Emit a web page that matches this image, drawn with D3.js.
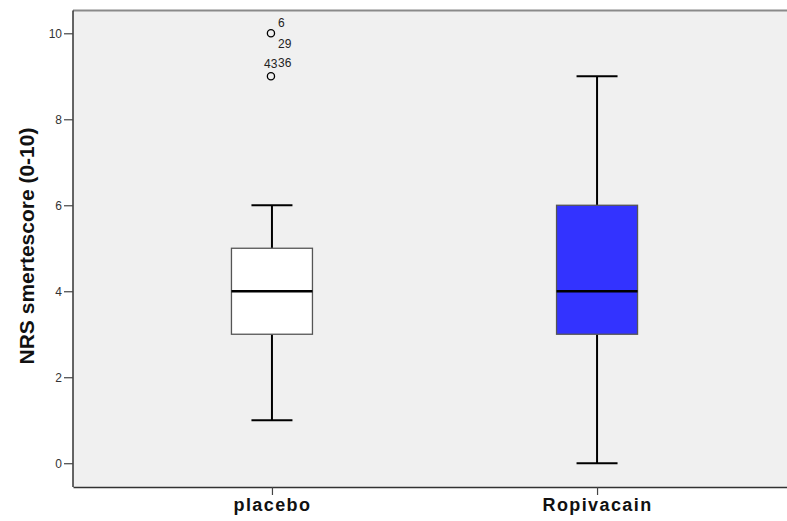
<!DOCTYPE html>
<html>
<head>
<meta charset="utf-8">
<script src="https://cdn.jsdelivr.net/npm/d3@7"></script>
<style>
  body { margin: 0; background: #fff; }
  text { font-family: Arial, "Liberation Sans", sans-serif; }
</style>
</head>
<body>
<div class="graph"></div>
<script>
const width = 787;
const height = 521;
const margin = {top: 10.5, right: -9, bottom: 34, left: 73};
const innerWidth = width - margin.left - margin.right;
const innerHeight = height - margin.top - margin.bottom;

// data
const groups = ['placebo', 'Ropivacain'];
const q1 = [3, 3];
const medians = [4, 4];
const q3 = [5, 6];
const whiskerLow = [1, 0];
const whiskerHigh = [6, 9];
const outlierGroup = ['placebo', 'placebo'];
const outlierValue = [10, 9];
const outlierCases = [['6', '29'], ['43', '36']];
const yTicks = [0, 2, 4, 6, 8, 10];

const boxFill = ['#ffffff', '#3333ff'];

const svg = d3.select('.graph').append('svg')
  .attr('width', width)
  .attr('height', height);

const chart = svg.append('g')
  .attr('transform', `translate(${margin.left}, ${margin.top})`);

const xScale = d3.scalePoint()
  .domain(groups)
  .range([0, innerWidth])
  .padding(0.612);

const yScale = d3.scaleLinear()
  .domain([-0.553, 10.53])
  .range([innerHeight, 0]);

const boxW = 81;
const capW = 41;

// plot background
chart.append('rect')
  .attr('width', innerWidth)
  .attr('height', innerHeight)
  .attr('fill', '#f0f0f0');

chart.append('line')
  .attr('x1', 0).attr('x2', innerWidth)
  .attr('y1', 0).attr('y2', 0)
  .attr('stroke', '#8a8a8a')
  .attr('stroke-width', 2);

// boxes
const box = chart.selectAll('.box')
  .data(groups)
  .join('g')
  .attr('class', 'box')
  .attr('transform', d => `translate(${xScale(d)}, 0)`);

// whiskers
box.append('line')
  .attr('y1', (d, i) => yScale(whiskerHigh[i]))
  .attr('y2', (d, i) => yScale(q3[i]))
  .attr('stroke', '#000').attr('stroke-width', 2);
box.append('line')
  .attr('y1', (d, i) => yScale(q1[i]))
  .attr('y2', (d, i) => yScale(whiskerLow[i]))
  .attr('stroke', '#000').attr('stroke-width', 2);
box.append('line')
  .attr('x1', -capW / 2).attr('x2', capW / 2)
  .attr('y1', (d, i) => yScale(whiskerHigh[i]))
  .attr('y2', (d, i) => yScale(whiskerHigh[i]))
  .attr('stroke', '#000').attr('stroke-width', 2);
box.append('line')
  .attr('x1', -capW / 2).attr('x2', capW / 2)
  .attr('y1', (d, i) => yScale(whiskerLow[i]))
  .attr('y2', (d, i) => yScale(whiskerLow[i]))
  .attr('stroke', '#000').attr('stroke-width', 2);

box.append('rect')
  .attr('x', -boxW / 2)
  .attr('width', boxW)
  .attr('y', (d, i) => yScale(q3[i]))
  .attr('height', (d, i) => yScale(q1[i]) - yScale(q3[i]))
  .attr('fill', (d, i) => boxFill[i])
  .attr('stroke', '#555')
  .attr('stroke-width', 1.3);

box.append('line')
  .attr('x1', -boxW / 2).attr('x2', boxW / 2)
  .attr('y1', (d, i) => yScale(medians[i]))
  .attr('y2', (d, i) => yScale(medians[i]))
  .attr('stroke', '#000').attr('stroke-width', 2.5);

// outliers
chart.selectAll('.outlier')
  .data(outlierValue)
  .join('circle')
  .attr('class', 'outlier')
  .attr('cx', (d, i) => xScale(outlierGroup[i]) - 1)
  .attr('cy', d => yScale(d))
  .attr('r', 3.6)
  .attr('fill', 'none')
  .attr('stroke', '#000')
  .attr('stroke-width', 1.3);

// case labels (first outlier: stacked to the right, second: side by side above)
const labelOffsets = [[[6, -6], [6, 15]], [[-8, -8], [6, -9]]];
outlierValue.forEach((v, i) => {
  outlierCases[i].forEach((lab, j) => {
    chart.append('text')
      .attr('x', xScale(outlierGroup[i]) + labelOffsets[i][j][0])
      .attr('y', yScale(v) + labelOffsets[i][j][1])
      .attr('font-size', 12)
      .attr('fill', '#222')
      .text(lab);
  });
});

// axes
const yAxis = d3.axisLeft(yScale)
  .tickValues(yTicks)
  .tickSize(9)
  .tickSizeOuter(0)
  .tickPadding(2);

const yG = chart.append('g').call(yAxis);
yG.select('.domain').attr('stroke', '#333').attr('stroke-width', 1.5)
  .attr('d', `M0,0V${innerHeight}`);
yG.selectAll('.tick line').attr('stroke', '#444').attr('stroke-width', 1.2);
yG.selectAll('.tick text')
  .attr('font-size', 12)
  .attr('font-family', 'Arial, "Liberation Sans", sans-serif')
  .attr('fill', '#333');

const xAxis = d3.axisBottom(xScale)
  .tickSize(8)
  .tickSizeOuter(0)
  .tickPadding(3);

const xG = chart.append('g')
  .attr('transform', `translate(0, ${innerHeight})`)
  .call(xAxis);
xG.select('.domain').attr('stroke', '#333').attr('stroke-width', 1.5);
xG.selectAll('.tick line').attr('stroke', '#444').attr('stroke-width', 1.2);
xG.selectAll('.tick text')
  .attr('font-size', 18)
  .attr('font-weight', 'bold')
  .attr('letter-spacing', '1.4px')
  .attr('font-family', 'Arial, "Liberation Sans", sans-serif')
  .attr('fill', '#111');

// y title
svg.append('text')
  .attr('transform', 'translate(34, 246) rotate(-90)')
  .attr('text-anchor', 'middle')
  .attr('font-size', 21)
  .attr('font-weight', 'bold')
  .attr('fill', '#111')
  .text('NRS smertescore (0-10)');
</script>
</body>
</html>
